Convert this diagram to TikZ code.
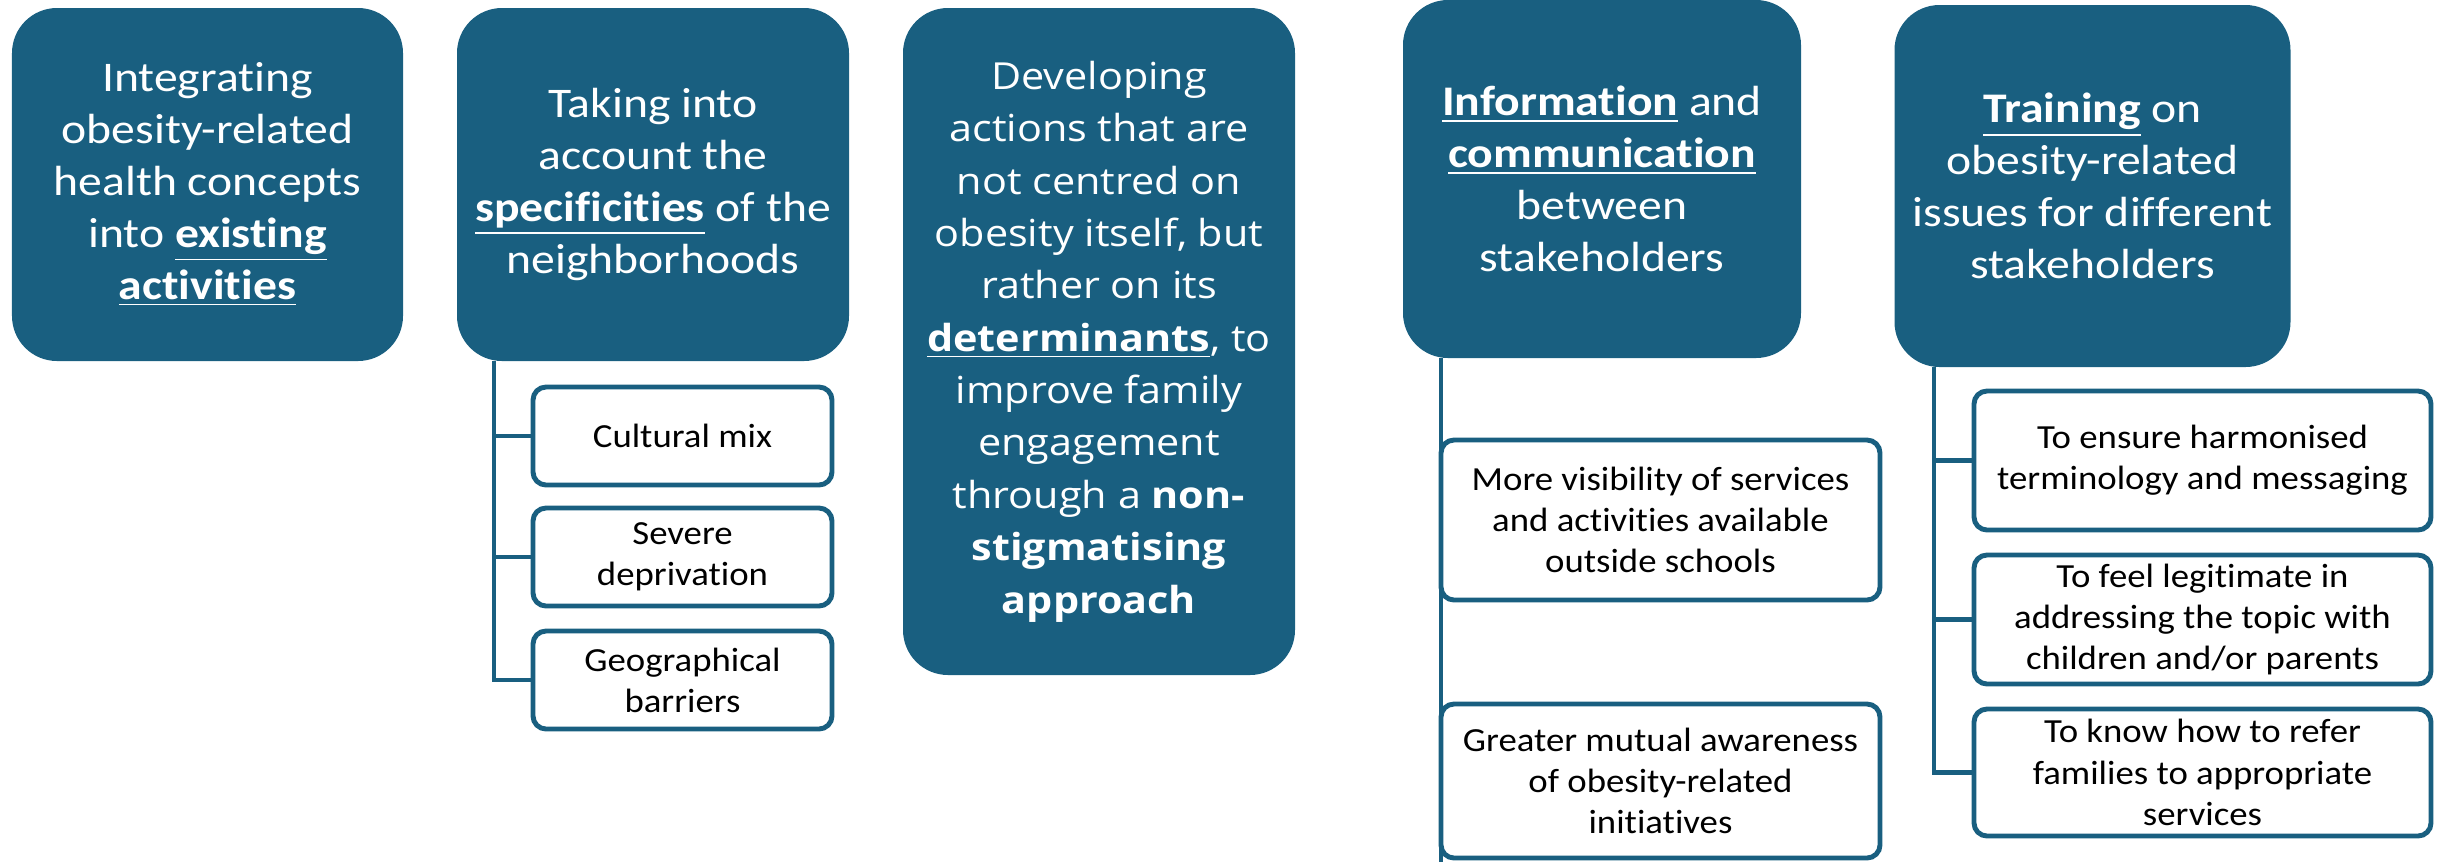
\documentclass[tikz,border=0pt]{standalone}
\usepackage{fontspec}
\setmainfont{Carlito}[Ligatures=NoCommon]
\newfontfamily\headfont{Carlito}[FakeStretch=1.13, Ligatures=NoCommon]
\newfontfamily\subfont{Carlito}[FakeStretch=1.09, Ligatures=NoCommon]
\newfontfamily\opensans{Open Sans}[FakeStretch=1.11]
\usepackage{tikz}
\definecolor{boxblue}{RGB}{25,95,128}

\begin{document}
\begin{tikzpicture}[auto,
    head/.style={rounded corners=0.45cm, fill=boxblue, text=white, align=center,
      inner sep=0pt, font=\headfont\fontsize{12}{14.75}\selectfont},
    sub/.style={draw=boxblue, line width=1.4pt, rounded corners=0.13cm, fill=white,
      text=black, align=center, inner sep=0pt, font=\subfont\fontsize{9.6}{11.7}\selectfont},
    link/.style={draw=boxblue, line width=1.3pt}]
    \useasboundingbox (0.00, 0.00) rectangle (24.38, -8.62);
    \node [head, minimum width=3.91cm, minimum height=3.53cm] (a) at (2.075, -1.845)
      {Integrating\\obesity-related\\health concepts\\into \underline{\textbf{existing}}\\\underline{\textbf{activities}}};
    \node [head, minimum width=3.92cm, minimum height=3.53cm] (b) at (6.530, -1.845)
      {Taking into\\account the\\\underline{\textbf{specificities}} of the\\neighborhoods};
    \node [head, minimum width=3.92cm, minimum height=6.67cm,
      font=\opensans\fontsize{10.6}{14.9}\selectfont] (c) at (10.990, -3.415)
      {Developing\\actions that are\\not centred on\\obesity itself, but\\rather on its\\\underline{\textbf{determinants}}, to\\improve family\\engagement\\through a \textbf{non-}\\\textbf{stigmatising}\\\textbf{approach}};
    \node [head, minimum width=3.98cm, minimum height=3.58cm] (d) at (16.020, -1.790)
      {\underline{\textbf{Information}} and\\\underline{\textbf{communication}}\\between\\stakeholders};
    \node [head, minimum width=3.96cm, minimum height=3.62cm] (e) at (20.925, -1.860)
      {\underline{\textbf{Training}} on\\obesity-related\\issues for different\\stakeholders};
    \node [sub, minimum width=2.99cm, minimum height=0.98cm] (b1) at (6.825, -4.360) {Cultural mix};
    \node [sub, minimum width=2.99cm, minimum height=0.98cm] (b2) at (6.825, -5.570) {Severe\\deprivation};
    \node [sub, minimum width=2.99cm, minimum height=0.98cm] (b3) at (6.825, -6.800) {Geographical\\barriers};
    \coordinate (bt) at (4.940, -3.610);
    \draw [link] (bt) |- (b1.west);
    \draw [link] (bt) |- (b2.west);
    \draw [link] (bt) |- (b3.west);
    \coordinate (dt) at (14.410, -3.580);
    \coordinate (db) at (14.410, -8.620);
    \draw [link] (dt) -- (db);
    \node [sub, minimum width=4.39cm, minimum height=1.60cm] (d1) at (16.605, -5.200)
      {More visibility of services\\and activities available\\outside schools};
    \node [sub, minimum width=4.39cm, minimum height=1.54cm] (d2) at (16.605, -7.810)
      {Greater mutual awareness\\of obesity-related\\initiatives};
    \node [sub, minimum width=4.57cm, minimum height=1.39cm] (e1) at (22.025, -4.605)
      {To ensure harmonised\\terminology and messaging};
    \node [sub, minimum width=4.57cm, minimum height=1.29cm] (e2) at (22.025, -6.195)
      {To feel legitimate in\\addressing the topic with\\children and/or parents};
    \node [sub, minimum width=4.57cm, minimum height=1.27cm] (e3) at (22.025, -7.725)
      {To know how to refer\\families to appropriate\\services};
    \coordinate (et) at (19.340, -3.670);
    \draw [link] (et) |- (e1.west);
    \draw [link] (et) |- (e2.west);
    \draw [link] (et) |- (e3.west);
  \end{tikzpicture}
\end{document}
